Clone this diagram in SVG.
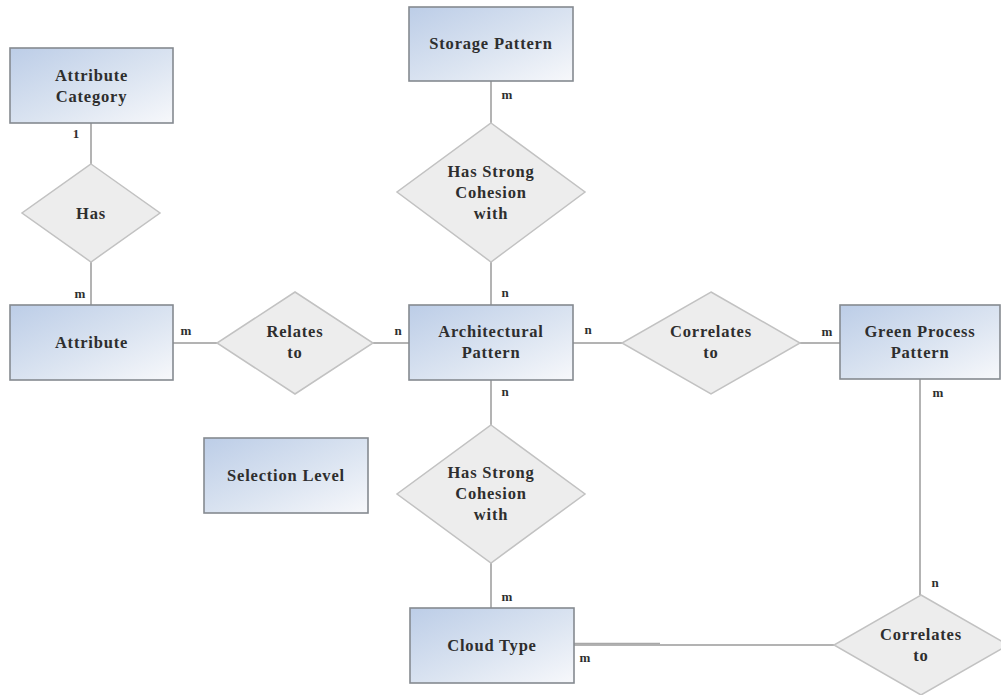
<svg xmlns="http://www.w3.org/2000/svg" width="1001" height="695" viewBox="0 0 1001 695">
<defs>
<linearGradient id="ent" x1="0" y1="0" x2="1" y2="1">
<stop offset="0" stop-color="#bccde7"/>
<stop offset="0.55" stop-color="#dbe4f1"/>
<stop offset="1" stop-color="#f7f8fb"/>
</linearGradient>
</defs>
<style>
.ent rect{fill:url(#ent);stroke:#858a90;stroke-width:1.6}
.rel polygon{fill:#ededed;stroke:#c2c2c2;stroke-width:1.5}
text{font-family:"Liberation Serif","Times New Roman",serif;font-weight:bold;fill:#2e2e2e;text-anchor:middle}
.lbl{font-size:16.5px;letter-spacing:0.8px}
.card{font-size:13px}
#connectors line{stroke:#9a9a9a;stroke-width:1.5}
</style>
<rect width="1001" height="695" fill="#ffffff"/>
<g id="connectors">
<line x1="91" y1="123" x2="91" y2="164"/>
<line x1="91" y1="262" x2="91" y2="305"/>
<line x1="173" y1="343" x2="217" y2="343"/>
<line x1="373" y1="343" x2="409" y2="343"/>
<line x1="491" y1="81" x2="491" y2="123"/>
<line x1="491" y1="262" x2="491" y2="305"/>
<line x1="573" y1="343" x2="622" y2="343"/>
<line x1="800" y1="343" x2="840" y2="343"/>
<line x1="920" y1="379" x2="920" y2="595"/>
<line x1="491" y1="380" x2="491" y2="425"/>
<line x1="491" y1="563" x2="491" y2="608"/>
<line x1="573" y1="645" x2="835" y2="645"/>
<line x1="573" y1="643.5" x2="660" y2="643.5" style="stroke:#a8a8a8;stroke-width:1.5"/>
<g id="cardinalities">
<text class="card" x="76" y="138">1</text>
<text class="card" x="80" y="298">m</text>
<text class="card" x="186" y="335">m</text>
<text class="card" x="398" y="335">n</text>
<text class="card" x="507" y="99">m</text>
<text class="card" x="505" y="297">n</text>
<text class="card" x="588" y="334">n</text>
<text class="card" x="827" y="336">m</text>
<text class="card" x="938" y="397">m</text>
<text class="card" x="505" y="396">n</text>
<text class="card" x="507" y="601">m</text>
<text class="card" x="935" y="587">n</text>
<text class="card" x="585" y="662">m</text>
</g>
</g>
<g id="attribute-category" class="ent">
<rect x="10" y="48" width="163" height="75"/>
<text class="lbl" x="91.5" y="81">Attribute</text>
<text class="lbl" x="91.5" y="102">Category</text>
</g>
<g id="has" class="rel">
<polygon points="91,164 160,213 91,262 22,213"/>
<text class="lbl" x="91" y="219">Has</text>
</g>
<g id="attribute" class="ent">
<rect x="10" y="305" width="163" height="75"/>
<text class="lbl" x="91.5" y="348">Attribute</text>
</g>
<g id="relates-to" class="rel">
<polygon points="295,292 373,343 295,394 217,343"/>
<text class="lbl" x="295" y="337">Relates</text>
<text class="lbl" x="295" y="358">to</text>
</g>
<g id="storage-pattern" class="ent">
<rect x="409" y="7" width="164" height="74"/>
<text class="lbl" x="491" y="49">Storage Pattern</text>
</g>
<g id="cohesion-top" class="rel">
<polygon points="491,123 585,192 491,262 397,192"/>
<text class="lbl" x="491" y="177">Has Strong</text>
<text class="lbl" x="491" y="198">Cohesion</text>
<text class="lbl" x="491" y="219">with</text>
</g>
<g id="architectural-pattern" class="ent">
<rect x="409" y="305" width="164" height="75"/>
<text class="lbl" x="491" y="337">Architectural</text>
<text class="lbl" x="491" y="358">Pattern</text>
</g>
<g id="correlates-top" class="rel">
<polygon points="711,292 800,343 711,394 622,343"/>
<text class="lbl" x="711" y="337">Correlates</text>
<text class="lbl" x="711" y="358">to</text>
</g>
<g id="green-process-pattern" class="ent">
<rect x="840" y="305" width="160" height="74"/>
<text class="lbl" x="920" y="337">Green Process</text>
<text class="lbl" x="920" y="358">Pattern</text>
</g>
<g id="selection-level" class="ent">
<rect x="204" y="438" width="164" height="75"/>
<text class="lbl" x="286" y="481">Selection Level</text>
</g>
<g id="cohesion-bottom" class="rel">
<polygon points="491,425 585,494 491,563 397,494"/>
<text class="lbl" x="491" y="478">Has Strong</text>
<text class="lbl" x="491" y="499">Cohesion</text>
<text class="lbl" x="491" y="520">with</text>
</g>
<g id="cloud-type" class="ent">
<rect x="410" y="608" width="164" height="75"/>
<text class="lbl" x="492" y="651">Cloud Type</text>
</g>
<g id="correlates-bottom" class="rel">
<polygon points="921,595 1008,645 921,695 834,645"/>
<text class="lbl" x="921" y="640">Correlates</text>
<text class="lbl" x="921" y="661">to</text>
</g>
</svg>
